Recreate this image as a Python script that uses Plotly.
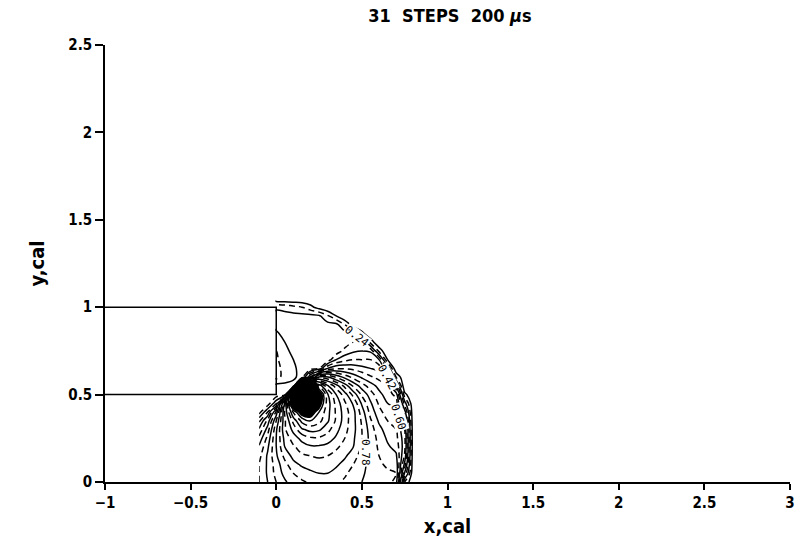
import math
import plotly.graph_objects as go

nan = math.nan

# Grid of the computed field (x, y in calibers)
x_cal = [-0.10, -0.05, 0.00, 0.05, 0.10, 0.15, 0.20, 0.25, 0.30, 0.35,
         0.40, 0.45, 0.50, 0.55, 0.60, 0.65, 0.70, 0.75, 0.80]
y_cal = [0.00, 0.05, 0.10, 0.15, 0.20, 0.25, 0.30, 0.35, 0.40, 0.45, 0.50,
         0.55, 0.60, 0.65, 0.70, 0.75, 0.80, 0.85, 0.90, 0.95, 1.00, 1.05]

field = [
    [0.60, 0.66, 0.72, 0.77, 0.81, 0.83, 0.85, 0.87, 0.87, 0.85, 0.83, 0.81, 0.78, 0.76, 0.75, 0.74, 0.70, 0.12, 0],
    [0.60, 0.67, 0.74, 0.80, 0.84, 0.87, 0.89, 0.90, 0.90, 0.88, 0.85, 0.82, 0.79, 0.76, 0.74, 0.73, 0.72, 0.29, 0],
    [0.60, 0.67, 0.75, 0.82, 0.88, 0.91, 0.92, 0.93, 0.92, 0.91, 0.88, 0.84, 0.80, 0.76, 0.73, 0.71, 0.70, 0.40, 0],
    [0.58, 0.67, 0.77, 0.86, 0.92, 0.95, 0.96, 0.97, 0.96, 0.94, 0.91, 0.87, 0.81, 0.76, 0.72, 0.69, 0.67, 0.47, 0],
    [0.55, 0.65, 0.78, 0.90, 0.95, 0.99, 1.01, 1.01, 1.00, 0.97, 0.94, 0.90, 0.83, 0.76, 0.71, 0.67, 0.64, 0.50, 0],
    [0.50, 0.62, 0.78, 0.92, 0.99, 1.04, 1.07, 1.07, 1.05, 1.01, 0.96, 0.91, 0.84, 0.76, 0.70, 0.65, 0.62, 0.50, 0],
    [0.43, 0.57, 0.77, 0.95, 1.04, 1.13, 1.16, 1.15, 1.10, 1.04, 0.98, 0.92, 0.84, 0.75, 0.68, 0.63, 0.60, 0.48, 0],
    [0.35, 0.50, 0.72, 0.95, 1.10, 1.22, 1.26, 1.22, 1.15, 1.07, 0.99, 0.92, 0.83, 0.73, 0.65, 0.60, 0.58, 0.42, 0],
    [0.21, 0.36, 0.62, 0.97, 1.21, 1.35, 1.35, 1.26, 1.16, 1.07, 0.99, 0.92, 0.81, 0.70, 0.62, 0.57, 0.55, 0.33, 0],
    [0.20, 0.20, 0.35, 0.93, 1.44, 1.62, 1.59, 1.35, 1.17, 1.06, 0.97, 0.89, 0.77, 0.67, 0.59, 0.54, 0.52, 0.21, 0],
    [0.20, 0.20, 0.20, 0.20, 1.62, 1.62, 1.62, 1.38, 1.15, 1.02, 0.93, 0.82, 0.71, 0.63, 0.56, 0.51, 0.46, 0.08, 0],
    [nan, nan, 0.20, 0.20, 0.20, 1.62, 1.56, 1.19, 1.03, 0.93, 0.82, 0.71, 0.63, 0.57, 0.52, 0.48, 0.29, 0, 0],
    [nan, nan, 0.10, 0.14, 0.17, 0.20, 0.51, 0.81, 0.79, 0.71, 0.64, 0.58, 0.53, 0.49, 0.46, 0.43, 0.12, 0, 0],
    [nan, nan, 0.10, 0.14, 0.17, 0.20, 0.20, 0.24, 0.42, 0.47, 0.47, 0.46, 0.44, 0.42, 0.40, 0.24, 0, 0, 0],
    [nan, nan, 0.11, 0.15, 0.18, 0.20, 0.20, 0.20, 0.20, 0.30, 0.34, 0.36, 0.36, 0.36, 0.30, 0.06, 0, 0, 0],
    [nan, nan, 0.12, 0.16, 0.20, 0.20, 0.20, 0.20, 0.20, 0.20, 0.26, 0.29, 0.30, 0.29, 0.10, 0, 0, 0, 0],
    [nan, nan, 0.14, 0.18, 0.20, 0.20, 0.20, 0.20, 0.20, 0.20, 0.20, 0.24, 0.25, 0.10, 0, 0, 0, 0, 0],
    [nan, nan, 0.17, 0.20, 0.20, 0.20, 0.20, 0.20, 0.20, 0.20, 0.20, 0.17, 0.08, 0, 0, 0, 0, 0, 0],
    [nan, nan, 0.20, 0.20, 0.20, 0.20, 0.20, 0.20, 0.20, 0.20, 0.12, 0.03, 0, 0, 0, 0, 0, 0, 0],
    [nan, nan, 0.20, 0.20, 0.20, 0.20, 0.20, 0.19, 0.13, 0.06, 0, 0, 0, 0, 0, 0, 0, 0, 0],
    [nan, nan, 0.17, 0.16, 0.14, 0.12, 0.08, 0.03, 0, 0, 0, 0, 0, 0, 0, 0, 0, 0, 0],
    [nan, nan, 0, 0, 0, 0, 0, 0, 0, 0, 0, 0, 0, 0, 0, 0, 0, 0, 0],
]

# Contour levels: solid and dashed lines alternate every 0.06
solid_levels = [0.06, 0.18, 0.30, 0.42, 0.54, 0.66, 0.78, 0.90, 1.02, 1.14, 1.26]
dashed_levels = [0.12, 0.24, 0.36, 0.48, 0.60, 0.72, 0.84, 0.96, 1.08, 1.20]
labeled_levels = [0.24, 0.42, 0.60, 0.78]
# above this value the lines merge into a solid black core
core_level = 1.30

# Outline of the rod (y = 0.5 .. 1 cal, ending at x = 0)
rod_x = [-1.0, 0.0, 0.0, -1.0]
rod_y = [1.0, 1.0, 0.5, 0.5]

x_ticks = [-1, -0.5, 0, 0.5, 1, 1.5, 2, 2.5, 3]
x_ticktext = ["\u22121", "\u22120.5", "0", "0.5", "1", "1.5", "2", "2.5", "3"]
y_ticks = [0, 0.5, 1, 1.5, 2, 2.5]
y_ticktext = ["0", "0.5", "1", "1.5", "2", "2.5"]

FONT = "DejaVu Sans Condensed, Liberation Sans Narrow, Arial Narrow, sans-serif"
LABEL_FONT = "DejaVu Sans Mono, monospace"

fig = go.Figure()

# dense core around the singular point: the region below core_level is kept
# clear and everything above it is shaded black
fig.add_trace(go.Contour(
    x=x_cal, y=y_cal, z=field,
    contours=dict(type="constraint", operation="<", value=core_level),
    fillcolor="black", line=dict(color="black", width=1.5, smoothing=1.0),
    showscale=False, connectgaps=False, hoverinfo="skip",
))

levels = sorted([(lv, "solid") for lv in solid_levels] +
                [(lv, "6px,4px") for lv in dashed_levels])
for lv, dash in levels:
    fig.add_trace(go.Contour(
        x=x_cal, y=y_cal, z=field,
        autocontour=False,
        contours=dict(start=lv, end=lv, size=0.06, coloring="lines", showlabels=False),
        colorscale=[[0, "black"], [1, "black"]],
        line=dict(width=1.5, dash=dash, smoothing=1.0),
        showscale=False, connectgaps=False, hoverinfo="skip",
    ))

fig.add_trace(go.Scatter(
    x=rod_x, y=rod_y, mode="lines",
    line=dict(color="black", width=1.5),
    hoverinfo="skip", showlegend=False,
))

# Contour value labels written next to the front, rotated along their lines
label_spots = {0.24: (0.47, 0.83, 38), 0.42: (0.648, 0.60, 62),
               0.60: (0.715, 0.37, 72), 0.78: (0.525, 0.17, 90)}
for lv in labeled_levels:
    lx, ly, ang = label_spots[lv]
    fig.add_annotation(x=lx, y=ly, text=f"{lv:.2f}", showarrow=False,
                       textangle=ang, bgcolor="white", borderpad=0,
                       font=dict(family=LABEL_FONT, size=11, color="black"))

axis_common = dict(showline=True, linecolor="black", linewidth=1.5,
                   ticks="outside", tickwidth=1.5, tickcolor="black",
                   showgrid=False, zeroline=False,
                   tickfont=dict(family=FONT, size=15, color="black", weight="bold"))

fig.update_layout(
    width=800, height=545,
    margin=dict(l=105, r=5, t=45, b=63),
    paper_bgcolor="white", plot_bgcolor="white",
    showlegend=False,
    font=dict(family=FONT, color="black", size=16),
    title=dict(text="31  STEPS  200 <i>\u03bc</i>s", x=0.5625, xanchor="center",
               y=0.972, yanchor="middle",
               font=dict(family=FONT, size=18, color="black", weight="bold")),
    xaxis=dict(range=[-1, 3], tickvals=x_ticks, ticktext=x_ticktext, ticklen=6,
               title=dict(text="x,cal", standoff=8,
                          font=dict(family=FONT, size=20, color="black", weight="bold")),
               **axis_common),
    yaxis=dict(range=[0, 2.5], tickvals=y_ticks, ticktext=y_ticktext, ticklen=8,
               title=dict(text="y,cal", standoff=18,
                          font=dict(family=FONT, size=20, color="black", weight="bold")),
               **axis_common),
)

fig.write_html("out.html")
